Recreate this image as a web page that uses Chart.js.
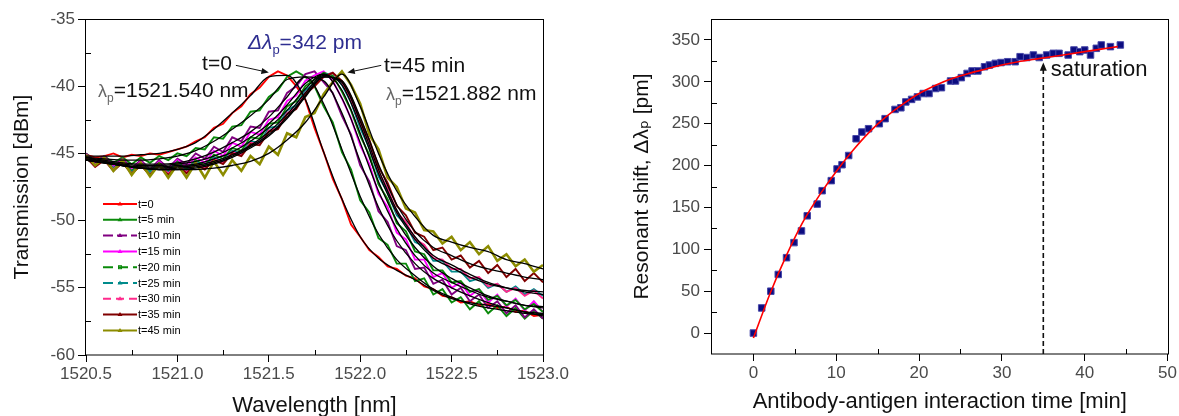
<!DOCTYPE html>
<html>
<head>
<meta charset="utf-8">
<script src="https://cdn.jsdelivr.net/npm/chart.js@4.4.0/dist/chart.umd.min.js"></script>
<style>
  body { margin: 0; background: #fff; width: 1179px; height: 416px; overflow: hidden; position: relative; }
  .box { position: absolute; top: 0; height: 416px; }
</style>
</head>
<body>
<div class="box" style="left:0;width:590px"><canvas id="spec"></canvas></div>
<div class="box" style="left:590px;width:589px"><canvas id="shift"></canvas></div>
<script>
const FONT = '"Liberation Sans", Arial, Helvetica, "DejaVu Sans", sans-serif';

// ---- left panel: transmission spectra ----
const wlTicks = [1520.5, 1521.0, 1521.5, 1522.0, 1522.5, 1523.0];
const dbTicks = [-60, -55, -50, -45, -40, -35];
const traceLabels = ['t=0', 't=5 min', 't=10 min', 't=15 min', 't=20 min', 't=25 min', 't=30 min', 't=35 min', 't=45 min'];

const traceWl = [1520.50,1520.55,1520.60,1520.65,1520.70,1520.75,1520.80,1520.85,1520.90,1520.95,
  1521.00,1521.05,1521.10,1521.15,1521.20,1521.25,1521.30,1521.35,1521.40,1521.45,
  1521.50,1521.55,1521.60,1521.65,1521.70,1521.75,1521.80,1521.85,1521.90,1521.95,
  1522.00,1522.05,1522.10,1522.15,1522.20,1522.25,1522.30,1522.35,1522.40,1522.45,
  1522.50,1522.55,1522.60,1522.65,1522.70,1522.75,1522.80,1522.85,1522.90,1522.95,1523.00];
const fitWl = [1520.5,1520.6,1520.7,1520.8,1520.9,1521.0,1521.1,1521.2,1521.3,1521.4,1521.5,1521.6,1521.7,
  1521.8,1521.9,1522.0,1522.1,1522.2,1522.3,1522.4,1522.5,1522.6,1522.7,1522.8,1522.9,1523.0];

// measured traces (dBm)
const t0Trace = [-45.1,-45.3,-45.2,-45.0,-45.3,-45.1,-45.2,-45.0,-45.1,-44.9,
  -44.7,-44.5,-44.1,-43.8,-43.1,-42.8,-42.0,-41.5,-40.6,-40.1,
  -39.3,-38.9,-39.2,-40.0,-41.0,-43.1,-44.9,-46.9,-48.4,-50.3,
  -51.2,-52.2,-52.7,-53.4,-53.6,-54.1,-54.3,-54.9,-55.1,-55.6,
  -55.7,-56.1,-56.0,-56.3,-56.2,-56.5,-56.4,-56.8,-56.7,-57.1,-57.0];
const t5Trace = [-45.0,-45.6,-45.2,-45.7,-45.3,-45.8,-45.3,-45.7,-45.2,-45.5,
  -45.0,-45.2,-44.6,-44.7,-43.8,-43.9,-43.0,-42.9,-41.9,-41.8,
  -40.8,-40.3,-39.3,-38.9,-39.3,-40.0,-41.5,-42.7,-44.9,-46.2,
  -48.5,-49.4,-51.3,-51.8,-53.2,-53.2,-54.5,-54.3,-55.5,-55.1,
  -56.1,-55.7,-56.6,-56.0,-56.9,-56.3,-57.1,-56.5,-57.3,-56.7,-57.3];
const t10Trace = [-45.0,-45.7,-45.2,-45.9,-45.4,-46.1,-45.5,-46.2,-45.5,-46.1,
  -45.4,-45.8,-45.0,-45.4,-44.5,-44.9,-43.8,-44.1,-43.0,-43.1,
  -41.9,-41.8,-40.5,-40.0,-39.1,-38.9,-39.7,-40.5,-42.2,-43.6,
  -45.9,-47.1,-49.3,-50.1,-51.9,-52.2,-53.6,-53.5,-54.7,-54.4,
  -55.5,-55.0,-56.0,-55.5,-56.5,-56.0,-56.9,-56.3,-57.2,-56.6,-57.3];
const t15Trace = [-45.1,-45.8,-45.3,-46.0,-45.5,-46.2,-45.6,-46.3,-45.6,-46.2,
  -45.5,-46.0,-45.3,-45.7,-44.8,-45.2,-44.2,-44.5,-43.4,-43.6,
  -42.5,-42.3,-41.1,-40.7,-39.6,-39.2,-38.9,-39.6,-40.9,-42.4,
  -44.4,-45.8,-48.0,-49.0,-50.9,-51.4,-52.9,-52.9,-54.2,-53.9,
  -55.0,-54.6,-55.6,-55.1,-56.1,-55.5,-56.4,-55.8,-56.7,-56.0,-56.8];
const t20Trace = [-45.2,-45.9,-45.4,-46.1,-45.6,-46.3,-45.7,-46.3,-45.7,-46.3,
  -45.6,-46.2,-45.5,-45.9,-45.1,-45.4,-44.6,-44.8,-43.8,-43.9,
  -42.8,-42.7,-41.5,-41.1,-40.0,-39.5,-39.0,-39.2,-40.4,-41.8,
  -43.7,-45.1,-47.3,-48.4,-50.2,-50.8,-52.3,-52.5,-53.7,-53.7,
  -54.6,-54.5,-55.3,-55.1,-55.9,-55.6,-56.3,-55.9,-56.6,-56.2,-56.8];
const t25Trace = [-45.3,-45.9,-45.5,-46.1,-45.7,-46.4,-45.8,-46.4,-45.8,-46.4,
  -45.7,-46.3,-45.6,-46.0,-45.3,-45.6,-44.8,-45.0,-44.1,-44.2,
  -43.1,-43.0,-41.8,-41.4,-40.3,-39.8,-39.2,-39.0,-39.9,-41.2,
  -43.1,-44.6,-46.7,-47.9,-49.6,-50.3,-51.6,-51.9,-53.0,-53.0,
  -53.8,-53.8,-54.5,-54.3,-55.0,-54.7,-55.3,-54.9,-55.5,-55.1,-55.6];
const t30Trace = [-45.2,-46.0,-45.4,-46.2,-45.6,-46.5,-45.8,-46.6,-45.8,-46.5,
  -45.8,-46.4,-45.7,-46.1,-45.4,-45.7,-44.9,-45.1,-44.2,-44.3,
  -43.3,-43.1,-42.0,-41.6,-40.5,-39.9,-39.3,-39.0,-39.7,-41.0,
  -42.8,-44.3,-46.4,-47.6,-49.4,-50.1,-51.4,-51.8,-52.8,-52.9,
  -53.6,-53.6,-54.3,-54.2,-54.9,-54.7,-55.3,-55.0,-55.6,-55.2,-55.8];
const t35Trace = [-45.3,-46.0,-45.5,-46.3,-45.7,-46.5,-45.9,-46.6,-45.9,-46.6,
  -45.9,-46.5,-45.8,-46.2,-45.5,-45.8,-45.0,-45.2,-44.3,-44.4,
  -43.4,-43.2,-42.1,-41.7,-40.6,-40.0,-39.3,-39.0,-39.6,-40.8,
  -42.5,-44.0,-46.0,-47.2,-48.9,-49.6,-50.9,-51.2,-52.2,-52.0,
  -52.9,-52.6,-53.5,-53.0,-53.9,-53.3,-54.2,-53.6,-54.5,-53.9,-54.6];
const t45Trace = [-45.1,-45.9,-45.3,-46.3,-45.5,-46.6,-45.7,-46.7,-45.8,-46.8,
  -45.8,-46.8,-45.7,-46.8,-45.6,-46.6,-45.5,-46.3,-45.2,-45.8,
  -44.5,-45.1,-43.5,-43.8,-42.3,-42.0,-40.6,-39.7,-38.9,-39.9,
  -41.3,-43.6,-44.7,-46.8,-47.5,-49.1,-49.4,-50.7,-50.8,-51.7,
  -51.2,-52.2,-51.6,-52.5,-51.9,-53.0,-52.5,-53.4,-52.9,-53.8,-53.3];

// fitted curves (black)
const t0Fit  = [-45.2,-45.2,-45.2,-45.1,-45.0,-44.7,-44.2,-43.2,-42.0,-40.7,-39.3,-39.2,-41.0,-44.9,-48.4,-51.2,-52.8,-53.7,-54.4,-55.2,-55.8,-56.1,-56.3,-56.5,-56.8,-57.1];
const t5Fit  = [-45.3,-45.4,-45.5,-45.5,-45.4,-45.2,-44.8,-44.1,-43.2,-42.2,-41.0,-39.5,-39.3,-41.3,-44.7,-48.2,-51.0,-52.9,-54.1,-55.1,-55.7,-56.2,-56.5,-56.7,-56.9,-57.0];
const t10Fit = [-45.3,-45.5,-45.7,-45.8,-45.8,-45.7,-45.4,-44.9,-44.2,-43.4,-42.3,-40.8,-39.3,-39.6,-42.0,-45.6,-49.0,-51.5,-53.2,-54.3,-55.0,-55.6,-56.1,-56.5,-56.8,-56.9];
const t15Fit = [-45.4,-45.6,-45.8,-45.9,-45.9,-45.8,-45.6,-45.2,-44.6,-43.8,-42.8,-41.4,-39.8,-39.1,-40.9,-44.2,-47.8,-50.6,-52.6,-53.9,-54.6,-55.2,-55.7,-56.0,-56.3,-56.4];
const t20Fit = [-45.5,-45.7,-45.9,-46.0,-46.0,-45.9,-45.8,-45.4,-44.9,-44.1,-43.1,-41.8,-40.2,-39.1,-40.3,-43.5,-47.1,-50.0,-52.0,-53.4,-54.3,-55.0,-55.6,-56.0,-56.3,-56.5];
const t25Fit = [-45.5,-45.7,-45.9,-46.1,-46.1,-46.0,-45.9,-45.6,-45.1,-44.4,-43.4,-42.1,-40.5,-39.2,-39.9,-42.9,-46.5,-49.4,-51.4,-52.8,-53.5,-54.2,-54.7,-55.0,-55.2,-55.3];
const t30Fit = [-45.5,-45.7,-45.9,-46.1,-46.2,-46.1,-46.0,-45.7,-45.2,-44.5,-43.6,-42.3,-40.7,-39.3,-39.7,-42.6,-46.2,-49.2,-51.2,-52.6,-53.3,-54.0,-54.6,-55.0,-55.3,-55.5];
const t35Fit = [-45.5,-45.7,-45.9,-46.1,-46.2,-46.2,-46.1,-45.8,-45.3,-44.6,-43.7,-42.4,-40.8,-39.3,-39.6,-42.3,-45.8,-48.8,-50.8,-52.0,-52.6,-53.2,-53.6,-53.9,-54.2,-54.4];
const t45Fit = [-45.3,-45.6,-45.9,-46.1,-46.2,-46.2,-46.2,-46.1,-45.9,-45.6,-45.0,-44.0,-42.7,-40.8,-39.1,-41.5,-45.0,-47.8,-49.7,-51.1,-51.6,-52.0,-52.3,-52.9,-53.2,-53.6];

const traceSeries = [t0Trace, t5Trace, t10Trace, t15Trace, t20Trace, t25Trace, t30Trace, t35Trace, t45Trace];
const fitSeries = [t0Fit, t5Fit, t10Fit, t15Fit, t20Fit, t25Fit, t30Fit, t35Fit, t45Fit];
const traceStyles = [
  {color: '#ff0000', dash: []},
  {color: '#0a8a0a', dash: []},
  {color: '#800080', dash: [10, 4]},
  {color: '#ff00ff', dash: []},
  {color: '#0a8a0a', dash: [10, 5]},
  {color: '#008b8b', dash: [10, 5]},
  {color: '#ff2a8c', dash: [8, 5]},
  {color: '#800000', dash: []},
  {color: '#8c8c00', dash: []}
];

// ---- right panel: resonant shift vs time ----
const timeTicks = [0, 10, 20, 30, 40, 50];
const shiftTicks = [0, 50, 100, 150, 200, 250, 300, 350];
const timeMin = [0, 1.0, 2.1, 3.0, 4.0, 4.9, 5.8, 6.5, 7.7, 8.3, 9.4, 10.1, 10.7, 11.5, 12.4, 13.1, 13.9, 15.2, 15.9, 17.1,
  17.8, 18.4, 19.1, 19.8, 20.5, 21.2, 22.0, 22.7, 23.8, 24.4, 25.1, 25.8, 26.4, 27.1, 27.9, 28.5, 29.2, 29.9, 30.7, 31.6,
  32.2, 33.0, 33.8, 34.5, 35.4, 36.2, 36.9, 38.0, 38.7, 39.4, 40.0, 40.7, 41.4, 42.0, 43.1, 44.3];
const shiftPm = [0, 30, 50, 70, 90, 108, 122, 140, 154, 170, 182, 196, 201, 212, 232, 240, 244, 250, 256, 267,
  269, 276, 279, 282, 286, 286, 292, 293, 301, 301, 305, 310, 313, 313, 318, 320, 322, 323, 324, 324,
  330, 329, 332, 329, 332, 334, 334, 332, 338, 336, 338, 332, 340, 344, 342, 344];
const fitTime = [0, 2, 4, 6, 8, 10, 12, 14, 16, 18, 20, 22, 24, 26, 28, 30, 32, 34, 36, 38, 40, 42, 44];
const fitShift = [-6, 47, 93, 133, 165, 193, 218, 240, 258, 273, 286, 296, 304, 310, 315, 320, 324, 327, 330, 333, 336, 339, 342];

Chart.defaults.font.family = FONT;

function axis(o) {
  return {
    type: 'linear', min: o.min, max: o.max,
    afterBuildTicks: s => { s.ticks = o.majors.map(v => ({value: v})); },
    afterFit: s => { if (o.width) s.width = o.width; if (o.height) s.height = o.height; },
    ticks: { callback: o.fmt, color: '#4a4a4a', font: {size: 17}, padding: o.pad, autoSkip: false, maxRotation: 0 },
    grid: { display: true, drawOnChartArea: false, drawTicks: true, tickLength: o.tick, color: '#000', tickColor: '#000', lineWidth: 1 },
    border: { display: false },
    title: { display: true, text: o.title, color: '#111', font: {size: o.titleSize, lineHeight: 1}, padding: o.titlePad }
  };
}

// frame around the plot + short inward minor ticks
const frame = {
  id: 'frame',
  afterDraw(chart, args, opts) {
    const {ctx, chartArea: a, scales: {x, y}} = chart;
    ctx.save();
    ctx.strokeStyle = '#000';
    ctx.lineWidth = 1;
    ctx.strokeRect(Math.round(a.left) - 0.5, Math.round(a.top) + 0.5, Math.round(a.width) + 1, Math.round(a.height) - 0.5);
    ctx.beginPath();
    for (let v = opts.xMinor[0]; v < x.max; v += opts.xMinor[1]) {
      const p = Math.round(x.getPixelForValue(v)) + 0.5;
      ctx.moveTo(p, a.bottom); ctx.lineTo(p, a.bottom - 5);
    }
    for (let v = opts.yMinor[0]; v < y.max; v += opts.yMinor[1]) {
      const p = Math.round(y.getPixelForValue(v)) + 0.5;
      ctx.moveTo(a.left, p); ctx.lineTo(a.left + 5, p);
    }
    ctx.stroke();
    ctx.restore();
  }
};

function richText(ctx, x, y, parts) {
  let cx = x;
  parts.forEach(([t, font, color, dy]) => {
    ctx.font = font;
    ctx.fillStyle = color;
    ctx.fillText(t, cx, y + dy);
    cx += ctx.measureText(t).width;
  });
}

function arrow(ctx, x1, y1, x2, y2, head, dash) {
  const ang = Math.atan2(y2 - y1, x2 - x1);
  ctx.setLineDash(dash || []);
  ctx.beginPath(); ctx.moveTo(x1, y1); ctx.lineTo(x2 - 3 * Math.cos(ang), y2 - 3 * Math.sin(ang)); ctx.stroke();
  ctx.setLineDash([]);
  ctx.beginPath();
  ctx.moveTo(x2, y2);
  ctx.lineTo(x2 - head * Math.cos(ang - 0.4), y2 - head * Math.sin(ang - 0.4));
  ctx.lineTo(x2 - head * Math.cos(ang + 0.4), y2 - head * Math.sin(ang + 0.4));
  ctx.closePath(); ctx.fill();
}

const legendBox = {
  id: 'legendBox',
  afterDraw(chart, args, o) {
    const ctx = chart.ctx;
    ctx.save();
    ctx.font = '11px ' + FONT;
    ctx.textBaseline = 'middle';
    traceLabels.forEach((lab, i) => {
      const y = o.top + i * o.step;
      const st = traceStyles[i];
      ctx.strokeStyle = st.color; ctx.fillStyle = st.color; ctx.lineWidth = 2;
      ctx.setLineDash(st.dash);
      ctx.beginPath(); ctx.moveTo(o.left, y); ctx.lineTo(o.left + o.len, y); ctx.stroke();
      ctx.setLineDash([]);
      const mx = o.left + o.len / 2;
      if (i === 4) {
        ctx.lineWidth = 1; ctx.strokeRect(mx - 1.5, y - 1.5, 3, 3);
      } else {
        ctx.beginPath(); ctx.moveTo(mx, y - 2.5); ctx.lineTo(mx + 2.5, y + 1.5); ctx.lineTo(mx - 2.5, y + 1.5); ctx.closePath(); ctx.fill();
      }
      ctx.fillStyle = '#000';
      ctx.fillText(lab, o.left + o.len + 1, y + 0.5);
    });
    ctx.restore();
  }
};

const spectrumNotes = {
  id: 'spectrumNotes',
  afterDraw(chart) {
    const {ctx, scales: {x, y}} = chart;
    const px = v => x.getPixelForValue(v), py = v => y.getPixelForValue(v);
    const blue = '#2e2e90';
    ctx.save();
    ctx.textAlign = 'left';
    ctx.textBaseline = 'alphabetic';
    richText(ctx, px(1521.386), py(-37.23), [
      ['\u0394\u03bb', 'italic 21px ' + FONT, blue, 0],
      ['p', '13px ' + FONT, blue, 5],
      ['=342 pm', '21px ' + FONT, blue, 0]
    ]);
    richText(ctx, px(1521.135), py(-38.79), [['t=0', '21px ' + FONT, '#111', 0]]);
    richText(ctx, px(1520.566), py(-40.80), [
      ['\u03bb', '18px ' + FONT, '#666', 0],
      ['p', '12px ' + FONT, '#666', 5],
      ['=1521.540 nm', '21px ' + FONT, '#111', 0]
    ]);
    richText(ctx, px(1522.13), py(-38.94), [['t=45 min', '21px ' + FONT, '#111', 0]]);
    richText(ctx, px(1522.141), py(-41.03), [
      ['\u03bb', '18px ' + FONT, '#666', 0],
      ['p', '12px ' + FONT, '#666', 5],
      ['=1521.882 nm', '21px ' + FONT, '#111', 0]
    ]);
    ctx.strokeStyle = '#111'; ctx.fillStyle = '#111'; ctx.lineWidth = 1;
    arrow(ctx, px(1521.32), py(-38.45), px(1521.50), py(-38.98), 8);
    arrow(ctx, px(1522.115), py(-38.45), px(1521.93), py(-38.98), 8);
    ctx.restore();
  }
};

const shiftNotes = {
  id: 'shiftNotes',
  afterDraw(chart) {
    const {ctx, chartArea: a, scales: {x, y}} = chart;
    ctx.save();
    ctx.strokeStyle = '#111'; ctx.fillStyle = '#111'; ctx.lineWidth = 1.6;
    const sx = x.getPixelForValue(35);
    arrow(ctx, sx, a.bottom, sx, y.getPixelForValue(323), 9, [5, 3]);
    ctx.font = '22px ' + FONT;
    ctx.textAlign = 'left';
    ctx.textBaseline = 'alphabetic';
    ctx.fillText('saturation', x.getPixelForValue(35.9), y.getPixelForValue(306.5));
    ctx.restore();
  }
};

const specSets = [];
fitSeries.forEach((f, i) => specSets.push({
  label: traceLabels[i] + ' fit',
  data: fitWl.map((w, k) => ({x: w, y: f[k]})),
  borderColor: '#000', borderWidth: 1.3, pointRadius: 0,
  cubicInterpolationMode: 'monotone', order: 0
}));
traceSeries.forEach((s, i) => specSets.push({
  label: traceLabels[i],
  data: traceWl.map((w, k) => ({x: w, y: s[k]})),
  borderColor: traceStyles[i].color, borderWidth: i === 8 ? 2.6 : 1.9, pointRadius: 0,
  tension: 0, order: 20 - i
}));

new Chart(document.getElementById('spec'), {
  type: 'line',
  data: { datasets: specSets },
  options: {
    responsive: true, maintainAspectRatio: false, animation: false, devicePixelRatio: 1, events: [],
    layout: { padding: { left: 0, right: 47, top: 19, bottom: 0 } },
    plugins: {
      legend: { display: false }, tooltip: { enabled: false },
      frame: { xMinor: [1520.75, 0.5], yMinor: [-57.5, 5] },
      legendBox: { left: 103, top: 204, step: 15.8, len: 34 }
    },
    scales: {
      x: axis({ min: 1520.5, max: 1523.0, majors: wlTicks, fmt: v => v.toFixed(1), height: 61, tick: 7, pad: 2,
        title: 'Wavelength [nm]', titleSize: 22, titlePad: { top: 0, bottom: -1 } }),
      y: axis({ min: -60, max: -35, majors: dbTicks, fmt: v => String(v), width: 86, tick: 8, pad: 3,
        title: 'Transmission [dBm]', titleSize: 21, titlePad: { top: 11.5, bottom: 0 } })
    }
  },
  plugins: [frame, legendBox, spectrumNotes]
});

new Chart(document.getElementById('shift'), {
  type: 'scatter',
  data: {
    datasets: [
      { type: 'line', label: 'fit', data: fitTime.map((t, i) => ({x: t, y: fitShift[i]})),
        borderColor: '#ff0000', borderWidth: 1.6, pointRadius: 0, cubicInterpolationMode: 'monotone', order: 0 },
      { label: 'shift', data: timeMin.map((t, i) => ({x: t, y: shiftPm[i]})),
        pointStyle: 'rect', pointRadius: 4.6, backgroundColor: '#0c0c80', borderColor: '#4848a8', borderWidth: 1, order: 1 }
    ]
  },
  options: {
    responsive: true, maintainAspectRatio: false, animation: false, devicePixelRatio: 1, events: [],
    layout: { padding: { left: 0, right: 9, top: 19, bottom: 0 } },
    plugins: {
      legend: { display: false }, tooltip: { enabled: false },
      frame: { xMinor: [5, 10], yMinor: [25, 50] }
    },
    scales: {
      x: axis({ min: -5, max: 50, majors: timeTicks, fmt: v => String(v), height: 62, tick: 7, pad: 2,
        title: 'Antibody-antigen interaction time [min]', titleSize: 22, titlePad: { top: 0, bottom: 3.5 } }),
      y: axis({ min: -25, max: 375, majors: shiftTicks, fmt: v => String(v), width: 122, tick: 8, pad: 4,
        title: 'Resonant shift, \u0394\u03bb\u209a [pm]', titleSize: 21, titlePad: { top: 42, bottom: 0 } })
    }
  },
  plugins: [frame, shiftNotes]
});
</script>
</body>
</html>
